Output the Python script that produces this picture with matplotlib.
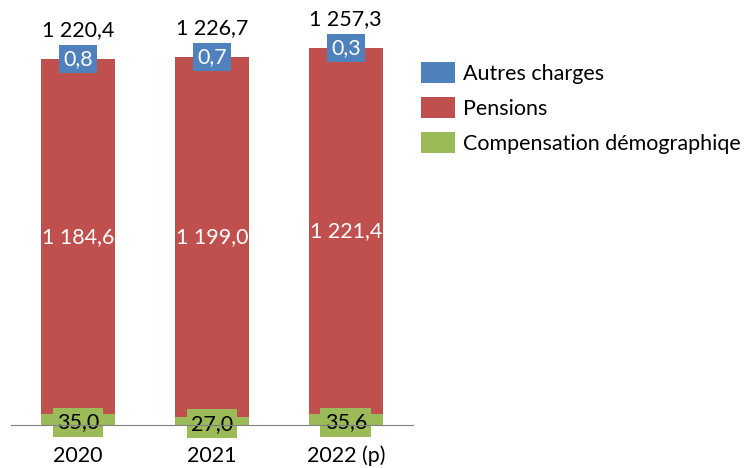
import matplotlib.pyplot as plt
import numpy as np

plt.rcParams['font.family'] = ['Lato', 'DejaVu Sans']

years = ['2020', '2021', '2022 (p)']
compensation = [35.0, 27.0, 35.6]
pensions = [1184.6, 1199.0, 1221.4]
autres = [0.8, 0.7, 0.3]
totals = [1220.4, 1226.7, 1257.3]

c_blue = '#4F81BD'
c_red = '#C0504D'
c_green = '#9BBB59'


def fmt(v):
    s = '{:,.1f}'.format(v)
    return s.replace(',', ' ').replace('.', ',')


fig = plt.figure(figsize=(7.44, 4.68), dpi=100)
ax = fig.add_axes([0.0148, 0.0919, 0.540, 0.897])

x = np.arange(len(years))
w = 0.55
comp = np.array(compensation)
pens = np.array(pensions)
aut = np.array(autres)
fs = 15.5

ax.bar(x, comp, w, color=c_green, label='Compensation démographiqe', zorder=2)
ax.bar(x, pens, w, bottom=comp, color=c_red, label='Pensions', zorder=2)
ax.bar(x, aut, w, bottom=comp + pens, color=c_blue, label='Autres charges', zorder=2)

for i in range(len(x)):
    top = comp[i] + pens[i] + aut[i]
    # green label
    ax.text(x[i], comp[i] / 2 - 9, fmt(compensation[i]), ha='center', va='center',
            fontsize=fs, color='black', zorder=3,
            bbox=dict(boxstyle='square,pad=0.2', fc=c_green, ec='none'))
    # pensions label
    ax.text(x[i], comp[i] + pens[i] / 2, fmt(pensions[i]), ha='center', va='center',
            fontsize=fs, color='white', zorder=3)
    # autres label
    ax.text(x[i], top, fmt(autres[i]), ha='center', va='center',
            fontsize=fs, color='white', zorder=3,
            bbox=dict(boxstyle='square,pad=0.2', fc=c_blue, ec='none'))
    # total
    ax.text(x[i], top + 97, fmt(totals[i]), ha='center', va='center',
            fontsize=fs, color='black', zorder=3)

ax.set_xlim(-0.5, 2.5)
ax.set_ylim(0, 1400)
ax.set_xticks(x)
ax.set_xticklabels(years, fontsize=fs)
ax.tick_params(axis='x', length=0, pad=15)
ax.set_yticks([])
for s in ['top', 'right', 'left']:
    ax.spines[s].set_visible(False)
ax.spines['bottom'].set_color('#808080')
ax.spines['bottom'].set_zorder(4)

handles, labels = ax.get_legend_handles_labels()
fig.legend(handles[::-1], labels[::-1], loc='upper left', bbox_to_anchor=(0.56, 0.877),
           frameon=False, fontsize=fs, handlelength=1.6, handleheight=1.15,
           handletextpad=0.35, labelspacing=0.6, borderaxespad=0, borderpad=0.2)

fig.savefig('out.png', dpi=100)
